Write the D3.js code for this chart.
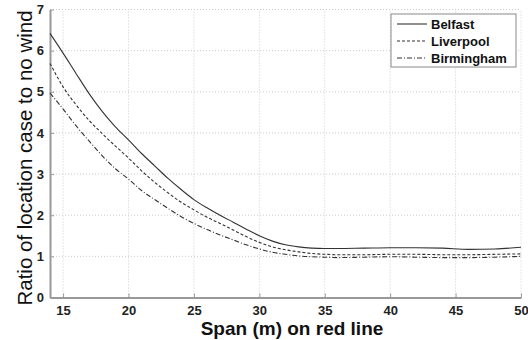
<!DOCTYPE html>
<html>
<head>
<meta charset="utf-8">
<script src="https://cdn.jsdelivr.net/npm/d3@7"></script>
<style>
  body { margin: 0; background: #fff; }
  svg { display: block; font-family: "Liberation Sans", Arial, sans-serif; }
</style>
</head>
<body>
<svg width="528" height="340"></svg>
<script>
const span = [14, 15, 16, 17, 18, 19, 20, 21, 22, 23, 24, 25, 26, 27, 28, 29, 30, 31, 32, 33, 34, 35, 36, 38, 40, 42, 44, 46, 48, 50];
const belfast = [6.42, 5.94, 5.44, 4.95, 4.52, 4.15, 3.83, 3.5, 3.2, 2.9, 2.63, 2.38, 2.18, 2.0, 1.83, 1.66, 1.5, 1.37, 1.28, 1.23, 1.2, 1.19, 1.19, 1.2, 1.21, 1.21, 1.2, 1.17, 1.18, 1.22];
const liverpool = [5.69, 5.12, 4.68, 4.3, 3.98, 3.68, 3.39, 3.08, 2.8, 2.55, 2.32, 2.13, 1.95, 1.8, 1.64, 1.48, 1.34, 1.23, 1.16, 1.11, 1.07, 1.05, 1.04, 1.04, 1.05, 1.05, 1.04, 1.04, 1.05, 1.06];
const birmingham = [4.97, 4.58, 4.17, 3.8, 3.44, 3.13, 2.88, 2.6, 2.38, 2.17, 1.97, 1.8, 1.65, 1.52, 1.4, 1.28, 1.18, 1.1, 1.05, 1.01, 0.99, 0.98, 0.97, 0.98, 0.99, 0.98, 0.97, 0.97, 0.98, 1.0];
const xTicks = [15, 20, 25, 30, 35, 40, 45, 50];
const yTicks = [0, 1, 2, 3, 4, 5, 6, 7];

const series = [
  { name: "Belfast", values: belfast, dash: null },
  { name: "Liverpool", values: liverpool, dash: "3,2" },
  { name: "Birmingham", values: birmingham, dash: "5,2,1,2" }
];

const svg = d3.select("svg");
const x = d3.scaleLinear().domain([14, 50]).range([50, 521]);
const y = d3.scaleLinear().domain([0, 7]).range([297.5, 9.5]);

// grid
svg.append("g")
  .attr("stroke", "#ccc")
  .attr("stroke-dasharray", "1,2")
  .selectAll("line")
  .data(xTicks).enter()
  .append("line")
  .attr("x1", d => x(d)).attr("x2", d => x(d))
  .attr("y1", y(0)).attr("y2", y(7));
svg.append("g")
  .attr("stroke", "#ccc")
  .attr("stroke-dasharray", "1,2")
  .selectAll("line")
  .data(yTicks.slice(1)).enter()
  .append("line")
  .attr("x1", x(14)).attr("x2", x(50))
  .attr("y1", d => y(d)).attr("y2", d => y(d));

// axes
const xAxis = svg.append("g")
  .attr("transform", `translate(0,${y(0)})`)
  .call(d3.axisBottom(x).tickValues(xTicks).tickFormat(d3.format("d"))
    .tickSizeInner(-4).tickSizeOuter(0).tickPadding(8));
const yAxis = svg.append("g")
  .attr("transform", `translate(${x(14)},0)`)
  .call(d3.axisLeft(y).tickValues(yTicks).tickFormat(d3.format("d"))
    .tickSizeInner(-4).tickSizeOuter(0).tickPadding(6));
[xAxis, yAxis].forEach(a => {
  a.select(".domain").attr("stroke", "#999").attr("stroke-width", 2);
  a.selectAll(".tick line").attr("stroke", "#999");
  a.selectAll(".tick text")
    .attr("fill", "#222")
    .style("font-size", "13px")
    .style("font-weight", "bold")
    .style("font-family", "'Liberation Sans', Arial, sans-serif");
});

// lines
const line = d3.line()
  .x((d, i) => x(span[i]))
  .y(d => y(d))
  .curve(d3.curveMonotoneX);
svg.append("g")
  .selectAll("path")
  .data(series).enter()
  .append("path")
  .attr("fill", "none")
  .attr("stroke", "#333")
  .attr("stroke-width", 1.1)
  .attr("stroke-dasharray", d => d.dash)
  .attr("d", d => line(d.values));

// legend
const legend = svg.append("g");
legend.append("rect")
  .attr("x", 391).attr("y", 14)
  .attr("width", 125).attr("height", 53)
  .attr("fill", "#fff").attr("stroke", "#888");
const items = legend.selectAll("g")
  .data(series).enter()
  .append("g")
  .attr("transform", (d, i) => `translate(0,${24 + i * 17})`);
items.append("line")
  .attr("x1", 397).attr("x2", 427)
  .attr("stroke", "#333").attr("stroke-width", 1.1)
  .attr("stroke-dasharray", d => d.dash);
items.append("text")
  .attr("x", 431).attr("dy", "0.36em")
  .style("font-size", "13px").style("font-weight", "bold")
  .attr("fill", "#111")
  .text(d => d.name);

// titles
svg.append("text")
  .attr("transform", "translate(32,158) rotate(-90)")
  .attr("text-anchor", "middle")
  .style("font-size", "20.5px")
  .attr("fill", "#111")
  .text("Ratio of location case to no wind");
svg.append("text")
  .attr("x", 292).attr("y", 335)
  .attr("text-anchor", "middle")
  .style("font-size", "19px").style("font-weight", "bold")
  .attr("fill", "#111")
  .text("Span (m) on red line");
</script>
</body>
</html>
